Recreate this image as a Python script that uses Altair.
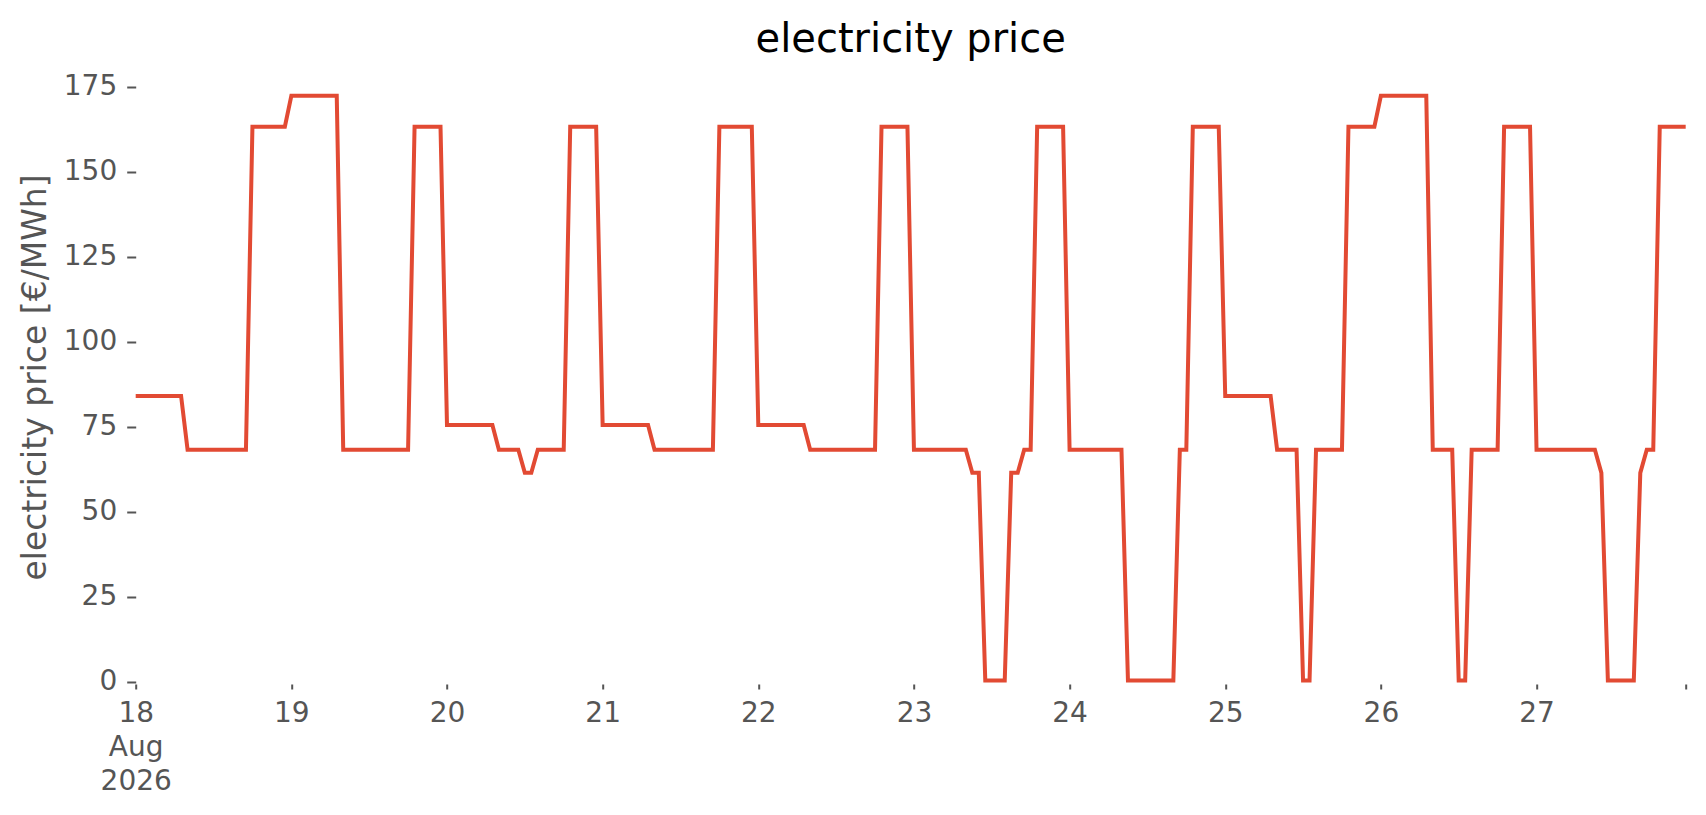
import altair as alt
import pandas as pd

# hourly electricity price [€/MWh], one list per day (18-27 Aug 2026)
day18 = [84.0, 84.0, 84.0, 84.0, 84.0, 84.0, 84.0, 84.0,
         68.2, 68.2, 68.2, 68.2, 68.2, 68.2, 68.2, 68.2, 68.2, 68.2,
         163.2, 163.2, 163.2, 163.2, 163.2, 163.2]
day19 = [172.3, 172.3, 172.3, 172.3, 172.3, 172.3, 172.3, 172.3,
         68.2, 68.2, 68.2, 68.2, 68.2, 68.2, 68.2, 68.2, 68.2, 68.2, 68.2,
         163.2, 163.2, 163.2, 163.2, 163.2]
day20 = [75.5, 75.5, 75.5, 75.5, 75.5, 75.5, 75.5, 75.5,
         68.2, 68.2, 68.2, 68.2, 61.4, 61.4, 68.2, 68.2, 68.2, 68.2, 68.2,
         163.2, 163.2, 163.2, 163.2, 163.2]
day21 = [75.5, 75.5, 75.5, 75.5, 75.5, 75.5, 75.5, 75.5,
         68.2, 68.2, 68.2, 68.2, 68.2, 68.2, 68.2, 68.2, 68.2, 68.2,
         163.2, 163.2, 163.2, 163.2, 163.2, 163.2]
day22 = [75.5, 75.5, 75.5, 75.5, 75.5, 75.5, 75.5, 75.5,
         68.2, 68.2, 68.2, 68.2, 68.2, 68.2, 68.2, 68.2, 68.2, 68.2, 68.2,
         163.2, 163.2, 163.2, 163.2, 163.2]
day23 = [68.2, 68.2, 68.2, 68.2, 68.2, 68.2, 68.2, 68.2, 68.2,
         61.4, 61.4, 0.3, 0.3, 0.3, 0.3, 61.4, 61.4, 68.2, 68.2,
         163.2, 163.2, 163.2, 163.2, 163.2]
day24 = [68.2, 68.2, 68.2, 68.2, 68.2, 68.2, 68.2, 68.2, 68.2,
         0.3, 0.3, 0.3, 0.3, 0.3, 0.3, 0.3, 0.3, 68.2, 68.2,
         163.2, 163.2, 163.2, 163.2, 163.2]
day25 = [84.0, 84.0, 84.0, 84.0, 84.0, 84.0, 84.0, 84.0,
         68.2, 68.2, 68.2, 68.2, 0.3, 0.3, 68.2, 68.2, 68.2, 68.2, 68.2,
         163.2, 163.2, 163.2, 163.2, 163.2]
day26 = [172.3, 172.3, 172.3, 172.3, 172.3, 172.3, 172.3, 172.3,
         68.2, 68.2, 68.2, 68.2, 0.3, 0.3, 68.2, 68.2, 68.2, 68.2, 68.2,
         163.2, 163.2, 163.2, 163.2, 163.2]
day27 = [68.2, 68.2, 68.2, 68.2, 68.2, 68.2, 68.2, 68.2, 68.2, 68.2,
         61.4, 0.3, 0.3, 0.3, 0.3, 0.3, 61.4, 68.2, 68.2,
         163.2, 163.2, 163.2, 163.2, 163.2]

prices = day18 + day19 + day20 + day21 + day22 + day23 + day24 + day25 + day26 + day27
times = pd.date_range("2026-08-18 00:00", periods=len(prices), freq="h")
df = pd.DataFrame({"time": times, "price": prices})

tick_days = list(range(18, 28))
y_ticks = [0, 25, 50, 75, 100, 125, 150, 175]

start = alt.DateTime(year=2026, month=8, date=18, hours=0)
end = alt.DateTime(year=2026, month=8, date=27, hours=23)
x_values = [alt.DateTime(year=2026, month=8, date=d, hours=0) for d in tick_days] + [end]

FONT = "DejaVu Sans"
GREY = "#555555"

x_axis = alt.Axis(
    title=None,
    values=x_values,
    labelExpr="hours(datum.value) == 23 ? '' : (date(datum.value) == 18 ? ['18', 'Aug', '2026'] : timeFormat(datum.value, '%d'))",
    labelFont=FONT, labelFontSize=28, labelColor=GREY, labelLineHeight=34,
    labelFlush=False, labelOverlap=False, labelBound=False,
    labelPadding=11, tickSize=5, tickWidth=2, tickColor=GREY,
    domain=False, grid=False,
)

y_axis = alt.Axis(
    title="electricity price [€/MWh]",
    values=y_ticks,
    labelFont=FONT, labelFontSize=28, labelColor=GREY, labelPadding=10,
    tickSize=9, tickWidth=2, tickColor=GREY,
    titleFont=FONT, titleFontSize=33, titleColor=GREY, titleFontWeight="normal",
    titleX=-83, titleY=307, titleBaseline="bottom", titleAngle=270,
    domain=False, grid=False,
)

chart = alt.Chart(df).mark_line(color="#E24A33", strokeWidth=4).encode(
    x=alt.X("time:T", axis=x_axis, scale=alt.Scale(domain=[start, end], nice=False)),
    y=alt.Y("price:Q", axis=y_axis, scale=alt.Scale(domain=[-0.7, 179.9], nice=False, zero=False)),
).properties(
    width=1550,
    height=614,
    title=alt.TitleParams(
        "electricity price", font=FONT, fontSize=40, fontWeight="normal",
        color="black", anchor="middle", frame="group", offset=10,
    ),
    autosize=alt.AutoSizeParams(type="none"),
    padding={"left": 127.7, "top": 62, "right": 12, "bottom": 128},
    background="white",
).configure_view(strokeWidth=0)

chart.save("out.html", embed_options={"renderer": "svg", "actions": False})
